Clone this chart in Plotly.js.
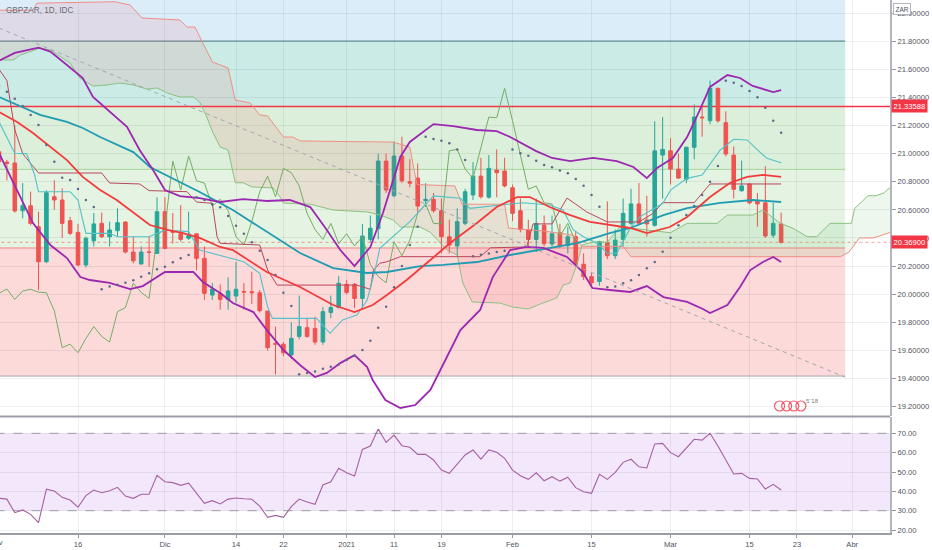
<!DOCTYPE html>
<html><head><meta charset="utf-8">
<script src="https://cdn.plot.ly/plotly-3.0.1.min.js"></script>
<style>html,body{margin:0;padding:0;background:#fff}#chart{width:932px;height:550px}</style>
</head><body><div id="chart"></div>
<script>
// ---- Candles (GBPZAR daily, 2 Nov 2020 .. 19 Mar 2021), bar index 0..99
const candleOpen  = [21.013,20.94,20.933,20.594,20.629,20.48,20.231,20.693,20.67,20.523,
  20.44,20.208,20.38,20.504,20.409,20.452,20.513,20.30,20.215,20.30,
  20.29,20.587,20.45,20.43,20.398,20.43,20.255,19.994,20.006,19.963,
  19.987,20.02,20.018,20.01,19.88,19.65,19.644,19.568,19.70,19.762,
  19.757,19.66,19.87,19.905,20.07,20.07,19.97,20.39,20.466,20.947,
  20.70,20.983,20.80,20.826,20.665,20.675,20.594,20.409,20.343,20.504,
  20.706,20.84,20.69,20.883,20.876,20.757,20.594,20.46,20.39,20.49,
  20.357,20.437,20.345,20.409,20.213,20.125,20.09,20.366,20.274,20.39,
  20.504,20.642,20.528,20.49,20.99,21.02,20.89,20.817,21.045,21.26,
  21.234,21.464,21.22,20.99,20.736,20.784,20.66,20.65,20.42,20.50];
const candleHigh  = [21.05,20.955,21.20,20.79,20.73,20.587,20.74,20.81,20.753,20.55,
  20.50,20.41,20.577,20.58,20.516,20.61,20.52,20.41,20.34,20.41,
  20.69,20.69,20.577,20.634,20.587,20.43,20.34,20.08,20.07,20.12,
  20.23,20.08,20.16,20.03,19.88,19.77,19.66,19.80,19.99,19.83,
  19.84,19.91,19.99,20.13,20.10,20.08,20.50,20.56,21.0,21.0,
  21.085,21.12,20.96,20.93,20.79,20.72,20.68,20.53,20.61,20.75,
  20.94,20.97,20.99,21.03,20.97,20.78,20.68,20.53,20.68,20.56,
  20.56,20.50,20.48,20.45,20.29,20.15,20.38,20.66,20.46,20.68,
  20.75,20.79,20.70,21.23,21.26,21.11,21.0,21.05,21.35,21.33,
  21.52,21.47,21.30,21.05,20.95,20.79,20.72,20.91,20.65,20.58];
const candleLow   = [20.90,20.81,20.58,20.54,20.49,20.03,20.22,20.60,20.40,20.42,
  20.20,20.19,20.34,20.40,20.34,20.41,20.29,20.22,20.21,20.195,
  20.29,20.32,20.36,20.374,20.386,20.17,19.96,19.96,19.89,19.89,
  19.94,19.89,19.93,19.87,19.60,19.43,19.56,19.54,19.68,19.69,
  19.64,19.64,19.83,19.90,20.0,19.90,19.90,20.37,20.39,20.72,
  20.69,20.79,20.76,20.58,20.62,20.58,20.29,20.29,20.27,20.49,
  20.67,20.68,20.68,20.69,20.76,20.52,20.44,20.33,20.30,20.34,
  20.34,20.33,20.29,20.20,20.10,20.05,20.06,20.25,20.25,20.34,
  20.49,20.49,20.41,20.48,20.68,20.78,20.82,20.79,20.96,21.12,
  21.21,21.22,20.98,20.68,20.73,20.64,20.48,20.40,20.40,20.36];
const candleClose = [20.942,20.93,20.592,20.629,20.504,20.231,20.722,20.67,20.504,20.433,
  20.208,20.398,20.50,20.409,20.457,20.509,20.30,20.238,20.30,20.298,
  20.587,20.326,20.44,20.39,20.416,20.255,20.006,20.037,19.963,20.023,
  20.035,20.015,20.01,19.883,19.62,19.645,19.584,19.686,19.77,19.70,
  19.66,19.876,19.905,20.078,20.013,19.97,20.414,20.469,20.947,20.741,
  20.983,20.807,20.79,20.627,20.675,20.594,20.409,20.35,20.516,20.729,
  20.84,20.693,20.895,20.864,20.77,20.575,20.46,20.39,20.504,20.36,
  20.43,20.343,20.409,20.213,20.125,20.082,20.374,20.274,20.385,20.575,
  20.642,20.504,20.50,21.02,21.03,20.89,20.826,21.045,21.26,21.255,
  21.464,21.234,20.997,20.746,20.77,20.65,20.642,20.414,20.504,20.369];

// ---- x-axis tick labels (bar index -> label)
const tickIdx  = [10,21,30,36,44,50,56,65,75,85,95,101,108];
const tickText = ['16','Dic','14','22','2021','11','19','Feb','15','Mar','15','23','Abr'];

// ---- Bollinger bands
const bbUpperIdx = [0,2,5,6.5,8.6,10.6,11.9,14,16.2,17.8,19.5,21,22.9,25.4,28,30.9,33.9,36.8,39.4,41.5,43.2,45,47,48.6,50.8,52,55,57.5,60.5,63,64.7,68,70,72.3,75.2,78.2,80.3,82,83.3,85.3,87.1,88.7,90,92.2,93.8,95.4,98,99];
const bbUpper    = [21.66,21.716,21.753,21.725,21.63,21.538,21.403,21.296,21.19,21.026,20.883,20.741,20.698,20.684,20.656,20.677,20.663,20.67,20.62,20.457,20.314,20.2,20.336,20.578,20.976,21.083,21.21,21.196,21.168,21.16,21.118,21.018,20.969,20.947,20.969,20.947,20.905,20.826,20.898,20.969,21.118,21.31,21.474,21.559,21.538,21.481,21.438,21.452];
const bbLowerIdx = [0,2.3,4.3,6.5,8.6,10.3,11.5,14,16.6,18.2,20,21,24.6,25.8,28,29.6,32.2,33.9,36,38.1,40,41.5,43.2,45,46.6,47.3,48.9,50.8,52.7,54.6,56.5,58.4,60.9,62.5,64.7,66.8,68.9,71.9,73.9,75.1,77.3,79.9,82,84.1,87.1,89.1,90,92.2,93.8,95.1,96.7,98,99];
const bbLower    = [21.004,20.741,20.506,20.35,20.257,20.122,20.101,20.08,20.037,20.058,20.122,20.158,20.158,20.087,20.009,19.937,19.873,19.745,19.603,19.497,19.411,19.44,19.51,19.567,19.482,19.39,19.248,19.191,19.212,19.319,19.532,19.745,19.888,20.122,20.314,20.336,20.329,20.265,20.158,20.044,20.03,20.016,20.058,19.98,19.945,19.895,19.866,19.923,20.051,20.172,20.229,20.265,20.229];

// ---- Moving averages
const maSlowIdx = [0,5.2,8.6,10.6,12.8,17,19.1,22.9,25.4,29.6,33.9,38.1,42.3,46.6,49.1,53.3,56.2,60.5,64.7,68.9,73.2,77.3,79.9,84.1,87.1,91.3,95.4,99];
const maSlow    = [21.403,21.275,21.225,21.182,21.118,21.011,20.905,20.798,20.727,20.599,20.442,20.293,20.186,20.151,20.158,20.2,20.208,20.229,20.279,20.321,20.364,20.435,20.471,20.563,20.613,20.649,20.67,20.656];
const maFastIdx = [0,2.3,4.3,6.5,8.6,10.6,12.8,14.9,17,19.1,21.3,23.3,25.4,28,29.6,33.9,38.1,42.3,45,47.3,49.1,51.6,54.6,57.1,60.5,63,65.6,67.2,69.7,72.3,74.8,77.3,79.9,82,84.9,87.1,90,92.5,94.7,96.7,99];
const maFast    = [21.296,21.225,21.147,21.047,20.954,20.834,20.741,20.67,20.578,20.492,20.457,20.435,20.4,20.336,20.314,20.158,20.051,19.923,19.873,19.923,19.994,20.101,20.243,20.364,20.506,20.62,20.691,20.691,20.62,20.563,20.514,20.492,20.471,20.435,20.478,20.549,20.691,20.791,20.834,20.848,20.834];

// ---- Ichimoku
const tenkanIdx = [0,2,3.5,4.5,5,9,10,11,14,15,19,21,24,25.4,31,33,34,34.6,40.2,41.9,43.5,45.3,46.6,47.6,48.2,50.8,52,55,58.4,59.6,63,66.3,69.7,71.4,72.7,74,75.7,77,78.2,79.9,81.1,84,85,87.1,89,90.4,91.3,93,94.7,96,97.2,99];
const tenkan    = [21.227,21.002,21.0,20.85,20.729,20.729,20.67,20.433,20.433,20.409,20.409,20.457,20.445,20.314,20.231,20.148,19.911,19.828,19.828,19.722,19.817,19.852,19.959,20.172,20.327,20.457,20.516,20.699,20.682,20.611,20.634,20.651,20.634,20.599,20.457,20.409,20.362,20.291,20.291,20.47,20.55,20.645,20.74,20.824,20.848,20.955,21.026,21.102,21.097,21.026,20.967,20.935];
const kijunIdx = [0,1,2,3,5,13,14,17.8,19,23.8,25,27,27.6,28,33,34,35.2,45.3,47,47.4,48.2,49.1,50.8,60.9,62.2,66.8,67.6,70,71.9,74.4,77,81,82.8,84,88,90,99];
const kijun    = [21.6,21.52,21.17,21.0,20.862,20.862,20.791,20.784,20.737,20.729,20.656,20.646,20.409,20.362,20.35,20.172,20.065,20.065,20.035,20.172,20.22,20.231,20.267,20.267,20.33,20.336,20.5,20.5,20.684,20.585,20.514,20.514,20.575,20.651,20.651,20.784,20.784];
const spanAIdx = [0,1.8,2.7,5.2,6.5,8.1,9,10.2,11.9,13.7,15.3,17,18.7,20,21.3,22.9,24.6,25.4,26.3,27.1,28,29,29.9,30.9,32,34.7,35.6,36,39.4,42.3,46.6,48.2,49.9,50.8,53.3,54.6,56.7,58,58.7,59.9,63.4,65,67,68.5,70.6,71.4,72.3,73.2,73.8,75.2,77,78.6,85,87.1,90.9,92.2,95.4,96.7,98.9,100.5,102.3,103.5,105.2,107.9,108.3,110,111,112,112.8];
const spanA    = [21.666,21.666,21.701,21.751,21.737,21.68,21.644,21.538,21.481,21.488,21.502,21.488,21.459,21.467,21.431,21.403,21.403,21.367,21.26,21.147,21.047,21.026,20.793,20.793,20.763,20.756,20.69,20.648,20.64,20.599,20.585,20.564,20.528,20.478,20.478,20.44,20.314,20.279,20.08,19.945,19.937,19.909,19.895,19.93,19.973,20.065,20.08,20.22,20.35,20.371,20.371,20.48,20.437,20.504,20.504,20.563,20.563,20.599,20.504,20.469,20.409,20.409,20.504,20.504,20.61,20.70,20.70,20.72,20.76];
const spanBIdx = [0,4.3,4.8,14.7,16.6,18.1,22.9,23.8,24.8,25.8,27,29,29.9,31.8,33,34,36,37.2,38.1,49.9,51,52,52.9,57.7,58.6,64,64.5,68.9,72.7,73.8,79,80,106.5,107.6,108.9,110.7,112.8];
const spanB    = [22.02,22.02,22.07,22.08,22.057,21.965,21.95,21.90,21.90,21.787,21.652,21.609,21.381,21.36,21.275,21.268,21.118,21.118,21.09,21.082,21.061,21.047,20.78,20.77,20.64,20.64,20.47,20.45,20.42,20.34,20.34,20.267,20.267,20.30,20.40,20.40,20.44];
const laggingShift = 26;   // lagging span = closes plotted 26 bars back
const cloudSwitchIdx = 74; // leading A crosses above leading B

// ---- Parabolic SAR, one per bar
const sar = [21.48,21.44,21.39,21.339,21.275,21.204,21.061,20.942,20.829,20.812,
  20.748,20.67,20.62,20.035,20.054,20.068,20.082,20.1,20.124,20.149,
  20.177,20.196,20.227,20.255,20.279,20.69,20.67,20.64,20.618,20.556,
  20.487,20.43,20.37,20.31,20.243,20.137,20.011,19.916,19.43,19.44,
  19.45,19.47,19.485,19.5,19.532,19.563,19.603,19.669,19.762,19.911,
  20.05,20.2,20.35,20.48,21.12,21.104,21.092,21.073,21.03,20.954,
  20.27,20.28,20.29,20.30,20.31,21.03,21.002,20.985,20.95,20.919,
  20.903,20.879,20.86,20.82,20.772,20.706,20.622,20.049,20.054,20.078,
  20.1,20.137,20.184,20.23,20.302,20.402,20.49,20.563,20.627,20.706,
  20.8,20.912,21.518,21.504,21.481,21.445,21.4,21.327,21.234,21.149];

// ---- RSI, one per bar
const rsi = [36.4,36.0,29.0,30.4,28.1,23.8,41.1,40.2,36.9,35.5,
  31.8,37.8,40.7,39.3,40.3,42.1,37.6,36.4,38.5,38.5,
  48.3,45.0,44.5,43.1,44.2,39.3,33.8,35.2,33.5,36.0,
  36.6,36.2,35.9,32.4,26.6,27.6,26.6,32.1,36.0,34.5,
  33.3,43.3,45.0,51.9,49.6,47.9,61.7,63.4,72.2,65.3,
  69.1,63.6,62.8,59.1,59.1,56.2,51.0,49.3,54.1,58.8,
  61.4,56.7,61.4,60.2,57.1,51.0,48.1,46.2,49.6,45.5,
  47.6,45.3,47.3,41.9,39.8,39.0,48.8,46.2,49.8,55.0,
  56.6,52.7,52.1,64.5,64.8,60.0,57.9,62.6,66.9,66.5,
  70.0,63.4,56.2,49.0,49.3,46.7,46.4,41.2,43.6,40.7];
const rsiUpper = 70, rsiLower = 30;

// ---- User drawings: price zones, levels, trend line
const zoneTop    = [22.6, 21.80, 21.33588, 20.888, 20.329];
const zoneBottom = [21.80, 21.33588, 20.888, 20.329, 19.418];
const zoneEndIdx = 107.1;
const resistanceLevel = 21.33588;
const lastPrice = 20.369;
const trendIdx = [0, 107.1];
const trendVal = [21.893, 19.41];
const eventIdx = [98.8, 99.7, 100.6, 101.5];
const eventVal = [19.205, 19.205, 19.205, 19.205];

// ===================================================================
const idx = candleOpen.map((_, i) => i);
const zoneColors = ['#dcedfa', '#cbebe6', '#dbefda', '#e4f3e2', '#fcdada'];
const FONT = 'Liberation Sans, Arial, sans-serif';
const FAR = 200; // extends full-width lines past the right edge (clipped)

function seg(ix, val, lo, hi) {
  const x = [], y = [];
  ix.forEach((v, k) => { if (v >= lo && v <= hi) { x.push(v); y.push(val[k]); } });
  return {x, y};
}
const aRed = seg(spanAIdx, spanA, -10, cloudSwitchIdx), bRed = seg(spanBIdx, spanB, -10, cloudSwitchIdx);
const aGrn = seg(spanAIdx, spanA, 73.8, 200), bGrn = seg(spanBIdx, spanB, 73.8, 200);

const lagX = [], lagY = [];
candleClose.forEach((c, i) => { if (i >= laggingShift) { lagX.push(i - laggingShift); lagY.push(c); } });

const colA = '#8cc182', colB = '#f08f86';
const traces = [
  {x: bRed.x, y: bRed.y, mode: 'lines', line: {color: colB, width: 1}, hoverinfo: 'skip'},
  {x: aRed.x, y: aRed.y, mode: 'lines', line: {color: colA, width: 1}, fill: 'tonexty', fillcolor: 'rgba(242,54,69,0.10)', hoverinfo: 'skip'},
  {x: bGrn.x, y: bGrn.y, mode: 'lines', line: {color: colB, width: 1}, hoverinfo: 'skip'},
  {x: aGrn.x, y: aGrn.y, mode: 'lines', line: {color: colA, width: 1}, fill: 'tonexty', fillcolor: 'rgba(76,175,80,0.10)', hoverinfo: 'skip'},
  {x: lagX, y: lagY, mode: 'lines', line: {color: '#74ad63', width: 1}, hoverinfo: 'skip'},
  {x: kijunIdx, y: kijun, mode: 'lines', line: {color: '#b8475c', width: 1}, hoverinfo: 'skip'},
  {x: tenkanIdx, y: tenkan, mode: 'lines', line: {color: '#55c1c8', width: 1.1}, hoverinfo: 'skip'},
  {x: maSlowIdx, y: maSlow, mode: 'lines', line: {color: '#1f9cb1', width: 1.8}, hoverinfo: 'skip'},
  {x: maFastIdx, y: maFast, mode: 'lines', line: {color: '#f23c3c', width: 1.8}, hoverinfo: 'skip'},
  {x: bbUpperIdx, y: bbUpper, mode: 'lines', line: {color: '#9c27b0', width: 1.8}, hoverinfo: 'skip'},
  {x: bbLowerIdx, y: bbLower, mode: 'lines', line: {color: '#9c27b0', width: 1.8}, hoverinfo: 'skip'},
  {x: trendIdx, y: trendVal, mode: 'lines', line: {color: '#a3a6af', width: 1, dash: '4px,4px'}, hoverinfo: 'skip'},
  {x: idx, y: sar, mode: 'markers', marker: {color: '#5c6a8a', size: 2.5}, hoverinfo: 'skip'},
  {type: 'candlestick', x: idx, open: candleOpen, high: candleHigh, low: candleLow, close: candleClose,
   increasing: {line: {color: '#26a69a', width: 1}, fillcolor: '#26a69a'},
   decreasing: {line: {color: '#ef5350', width: 1}, fillcolor: '#ef5350'},
   whiskerwidth: 0, hoverinfo: 'skip'},
  {x: eventIdx, y: eventVal, mode: 'markers', marker: {symbol: 'circle-open', color: '#f45b69', size: 10, line: {width: 1.2}}, hoverinfo: 'skip'},
  {x: idx, y: rsi, xaxis: 'x', yaxis: 'y2', mode: 'lines', line: {color: '#a5619f', width: 1.1}, hoverinfo: 'skip'}
];

const shapes = [];
zoneTop.forEach((t, k) => {
  shapes.push({type: 'rect', xref: 'x', yref: 'y', x0: -5, x1: zoneEndIdx, y0: zoneBottom[k], y1: t,
    fillcolor: zoneColors[k], line: {width: 0}, layer: 'below'});
});
function hline(yv, x1, color, width, dash, yref) {
  shapes.push({type: 'line', xref: 'x', yref: yref || 'y', x0: -5, x1: x1, y0: yv, y1: yv,
    line: {color: color, width: width, dash: dash || 'solid'}, layer: 'below'});
}
// RSI band
shapes.push({type: 'rect', xref: 'x', yref: 'y2', x0: -5, x1: FAR, y0: rsiLower, y1: rsiUpper,
  fillcolor: '#f3e7fc', line: {width: 0}, layer: 'below'});
hline(zoneTop[1], zoneEndIdx, '#84adb2', 1.6);
hline(zoneTop[3], zoneEndIdx, '#a6d39c', 1);
hline(zoneTop[4], zoneEndIdx, '#f4a3a3', 1.6);
hline(zoneBottom[4], zoneEndIdx, '#a3a6ae', 1);
hline(resistanceLevel, FAR, '#f23645', 1.5);
hline(lastPrice, FAR, 'rgba(239,83,80,0.55)', 1, 'dot');
hline(rsiUpper, FAR, '#a3a6af', 1, 'dash', 'y2');
hline(rsiLower, FAR, '#a3a6af', 1, 'dash', 'y2');
// pane separator
shapes.push({type: 'line', xref: 'paper', yref: 'paper', x0: 0, x1: 1, y0: 0.2186, y1: 0.2186,
  line: {color: '#9a9da6', width: 2}});

const tickFont = {family: FONT, size: 7.6, color: '#50535e'};
const layout = {
  width: 932, height: 550,
  margin: {l: 0, r: 42, t: 0, b: 17, pad: 0},
  paper_bgcolor: '#ffffff', plot_bgcolor: '#ffffff',
  showlegend: false, hovermode: false, boxgap: 0.35,
  xaxis: {range: [0.1266, 112.78], anchor: 'y2', tickmode: 'array', tickvals: tickIdx, ticktext: tickText,
    tickfont: tickFont, ticks: 'outside', ticklen: 3, tickcolor: '#9598a1',
    showgrid: true, gridcolor: 'rgba(42,46,57,0.08)', gridwidth: 1, zeroline: false,
    showline: true, linecolor: '#9a9da6', linewidth: 2, rangeslider: {visible: false}, fixedrange: true},
  yaxis: {domain: [0.2195, 1], range: [19.1338, 22.0925], side: 'right', tick0: 19.2, dtick: 0.2,
    tickformat: '.5f', tickfont: tickFont, ticks: 'outside', ticklen: 4, tickcolor: '#9598a1',
    showgrid: true, gridcolor: 'rgba(42,46,57,0.08)', zeroline: false,
    showline: true, linecolor: '#b2b5be', linewidth: 2, fixedrange: true},
  yaxis2: {domain: [0, 0.2176], range: [18.48, 78.42], side: 'right', anchor: 'x', tick0: 20, dtick: 10,
    tickformat: '.2f', tickfont: tickFont, ticks: 'outside', ticklen: 4, tickcolor: '#9598a1',
    showgrid: true, gridcolor: 'rgba(42,46,57,0.08)', zeroline: false,
    showline: true, linecolor: '#b2b5be', linewidth: 2, fixedrange: true},
  shapes: shapes,
  annotations: [
    {text: 'GBPZAR, 1D, IDC', xref: 'paper', yref: 'paper', x: 0, y: 1, xanchor: 'left', yanchor: 'middle',
     xshift: 4, yshift: -10, showarrow: false, font: {family: FONT, size: 8.2, color: '#6b6e78'}},
    {text: 'Nov', xref: 'paper', yref: 'paper', x: 0, y: 0, xanchor: 'center', yanchor: 'top',
     xshift: -4, yshift: -3, showarrow: false, font: tickFont},
    {text: resistanceLevel.toFixed(5), xref: 'paper', yref: 'y', x: 1, y: resistanceLevel, xanchor: 'left',
     yanchor: 'middle', xshift: 1, showarrow: false, bgcolor: '#f23645', borderpad: 1.5,
     font: {family: FONT, size: 7.6, color: '#ffffff'}},
    {text: lastPrice.toFixed(5), xref: 'paper', yref: 'y', x: 1, y: lastPrice, xanchor: 'left',
     yanchor: 'middle', xshift: 1, showarrow: false, bgcolor: '#f23645', borderpad: 1.5,
     font: {family: FONT, size: 7.6, color: '#ffffff'}},
    {text: 'ZAR', xref: 'paper', yref: 'paper', x: 1, y: 1, xanchor: 'left', yanchor: 'top',
     xshift: 3, yshift: -3, showarrow: false, bgcolor: '#ffffff', bordercolor: '#b2b5be', borderwidth: 1,
     borderpad: 1.5, font: {family: FONT, size: 6.5, color: '#50535e'}},
    {text: '5`18', xref: 'x', yref: 'y', x: eventIdx[3], y: eventVal[3], xanchor: 'left', yanchor: 'bottom',
     xshift: 3, yshift: 0, showarrow: false, font: {family: FONT, size: 6, color: '#787b86'}}
  ]
};

Plotly.newPlot('chart', traces, layout, {staticPlot: true, displayModeBar: false});
</script>
</body></html>
